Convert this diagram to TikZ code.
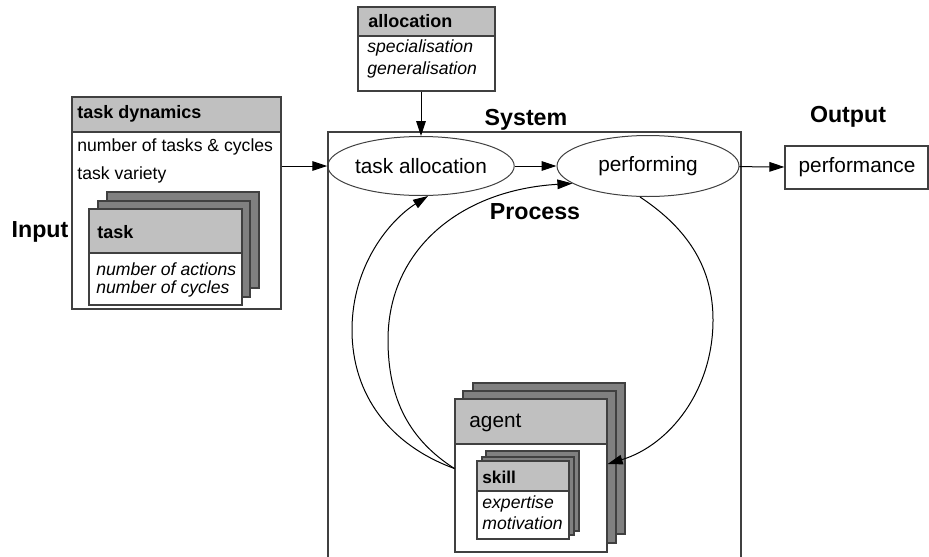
\documentclass[tikz,border=0pt]{standalone}
\usepackage{fontspec}
\setmainfont{Liberation Sans}
\usetikzlibrary{arrows.meta,fit,shapes.geometric}
\definecolor{hdr}{HTML}{C0C0C0}
\definecolor{backc}{HTML}{808080}
\definecolor{edge}{HTML}{404040}
\begin{document}
\begin{tikzpicture}[x=0.5pt,y=-0.5pt,
  box/.style={draw=edge, line width=0.6pt, inner sep=0pt},
  body/.style={font=\fontsize{8.8}{10.5}\selectfont, inner sep=0pt, anchor=west},
  itl/.style={font=\fontsize{8.8}{10.5}\selectfont\itshape, inner sep=0pt, anchor=west},
  hd/.style={font=\fontsize{9}{11}\selectfont\bfseries, inner sep=0pt, anchor=west},
  ttl/.style={font=\fontsize{11.6}{14}\selectfont\bfseries, inner sep=0pt},
  big/.style={font=\fontsize{10.4}{12.5}\selectfont, inner sep=0pt},
  oval/.style={ellipse, draw=edge, line width=0.5pt, inner sep=0pt, font=\fontsize{10.4}{12.5}\selectfont},
  conn/.style={line width=0.5pt, -{Triangle[length=7.5pt,width=4.8pt]}}
]
\useasboundingbox (0,0) rectangle (929,556);

% task dynamics box
\fill[white] (72,97) rectangle (281,309);
\fill[hdr] (72,97) rectangle (281,132);
\node[box, fit={(72,97)(281,309)}] (td) {};
\draw[edge, line width=0.6pt] (72,132) -- (281,132);
\node[hd] (tdh) at (77,114) {task dynamics};
\node[body] (tdl1) at (77,147) {number of tasks \& cycles};
\node[body] (tdl2) at (77,175) {task variety};

% task stack
\draw[box, fill=backc] (107,192) rectangle (259,288);
\draw[box, fill=backc] (98,201) rectangle (250,297);
\fill[white] (89,209) rectangle (242,305);
\fill[hdr] (89,209) rectangle (242,253);
\node[box, fit={(89,209)(242,305)}] (tk) {};
\draw[edge, line width=0.6pt] (89,253) -- (242,253);
\node[hd] (tkh) at (97,232) {task};
\node[itl] (tk1) at (96,269) {number of actions};
\node[itl] (tk2) at (96,289) {number of cycles};

% allocation box
\fill[white] (358,7) rectangle (495,91);
\fill[hdr] (358,7) rectangle (495,36);
\node[box, fit={(358,7)(495,91)}] (al) {};
\draw[edge, line width=0.6pt] (358,36) -- (495,36);
\node[hd] (alh) at (368,21) {allocation};
\node[itl] (al1) at (367,48) {specialisation};
\node[itl] (al2) at (367,70) {generalisation};

% system box
\node[box, fit={(328,132)(741,575)}] (sys) {};
\node[ttl] (systl) at (526,120) {System};
\node[ttl] (proc) at (535,212) {Process};
\node[ttl] (inp) at (40,232) {Input};
\node[ttl] (outp) at (848,117) {Output};

% ellipses
\node[oval, minimum width=92pt, minimum height=29.5pt] (ta) at (421,166) {task allocation};
\node[oval, minimum width=91pt, minimum height=30.5pt] (pf) at (648,166) {performing};

% performance
\node[box, fit={(785,146)(928,189)}] (perf) {};
\node[big] (perft) at (857,167) {performance};

% agent stack
\draw[box, fill=backc] (473,383) rectangle (625,534);
\draw[box, fill=backc] (463,391) rectangle (616,543);
\fill[white] (455,399) rectangle (607,552);
\fill[hdr] (455,399) rectangle (607,444);
\node[box, fit={(455,399)(607,552)}] (ag) {};
\draw[edge, line width=0.6pt] (455,444) -- (607,444);
\node[big, anchor=west] (agt) at (469,423) {agent};

% skill stack
\draw[box, fill=backc] (486,451) rectangle (579,531);
\draw[box, fill=backc] (482,457) rectangle (574,535);
\fill[white] (477,461) rectangle (569,539);
\fill[hdr] (477,461) rectangle (569,491);
\node[box, fit={(477,461)(569,539)}] (sk) {};
\draw[edge, line width=0.6pt] (477,491) -- (569,491);
\node[hd, font=\fontsize{8.6}{10.5}\selectfont\bfseries] (skh) at (482,477) {skill};
\node[itl] (sk1) at (482,504) {expertise};
\node[itl] (sk2) at (482,523) {motivation};

% connectors
\draw[conn] (td.east |- ta.west) -- (ta.west);
\draw[conn] (ta) -- (pf);
\draw[conn] (pf) -- (perf);
\draw[conn] (al.south -| ta.north) -- (ta.north);
\draw[conn] ([yshift=3.5pt]ag.west) .. controls (390,445) and (352,395) .. (352,330)
   .. controls (352,265) and (390,220) .. ([xshift=3.5pt]ta.south);
\draw[conn] ([yshift=3.5pt]ag.west) .. controls (410,440) and (388,400) .. (388,340)
   .. controls (388,250) and (460,190) .. (pf.193);
\draw[conn] ([xshift=-4pt]pf.south) .. controls (690,230) and (713,270) .. (713,320)
   .. controls (713,390) and (670,445) .. ([yshift=5.75pt]ag.east);
\end{tikzpicture}
\end{document}
